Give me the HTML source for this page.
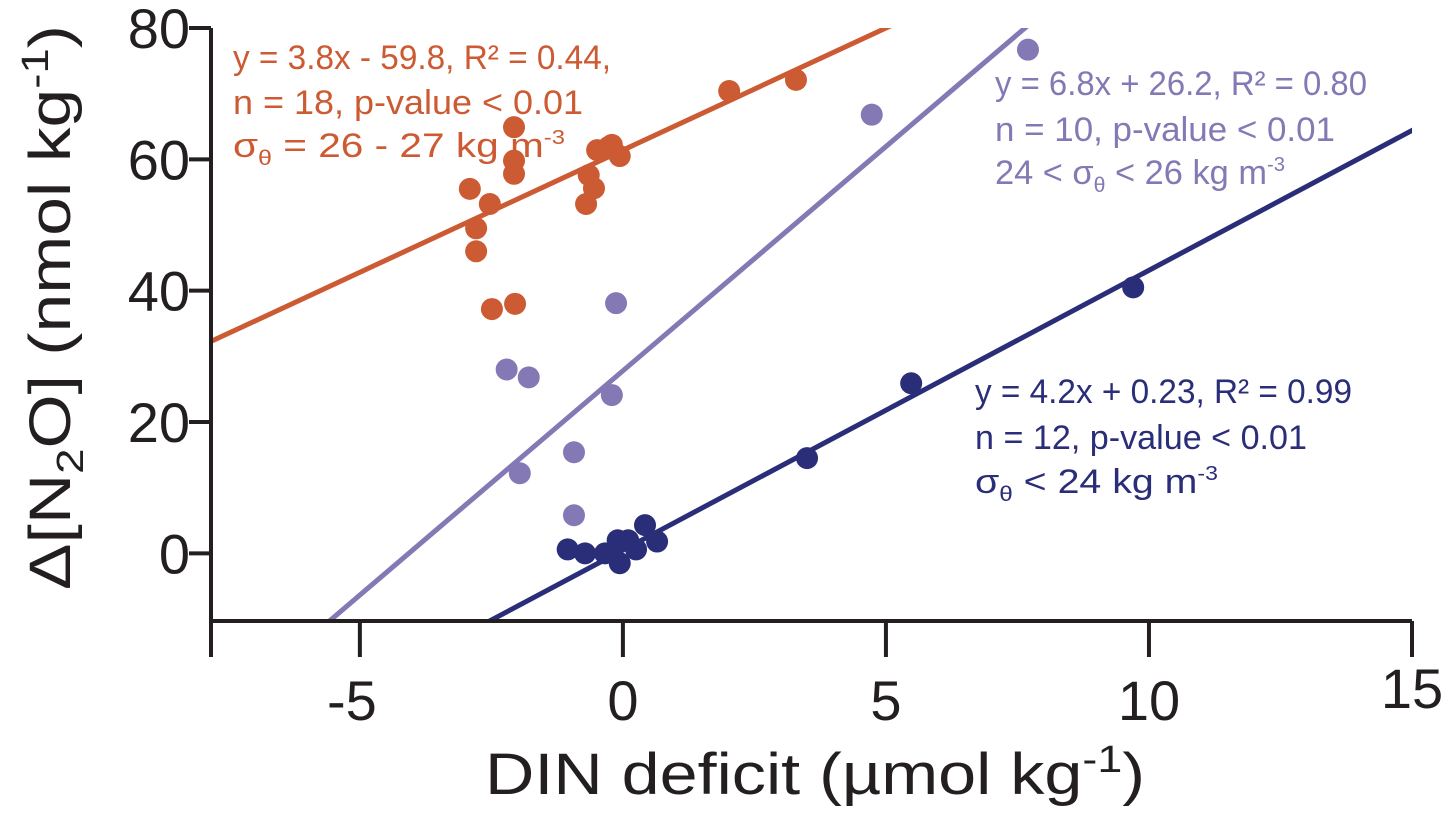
<!DOCTYPE html>
<html><head><meta charset="utf-8"><style>
body{margin:0;background:#fff}
svg text{font-family:"Liberation Sans",sans-serif}
</style></head><body>
<svg id="chart" width="1448" height="813" viewBox="0 0 1448 813" xmlns="http://www.w3.org/2000/svg">
<defs><clipPath id="plotclip"><rect x="211" y="28" width="1201" height="593"/></clipPath></defs>
<g id="marks" clip-path="url(#plotclip)"></g>
<g id="axes"></g>
<g fill="#cc5a32" font-size="34">
<text x="233" y="69" textLength="378" lengthAdjust="spacingAndGlyphs">y = 3.8x - 59.8, R² = 0.44,</text>
<text x="233" y="114" textLength="350" lengthAdjust="spacingAndGlyphs">n = 18, p-value &lt; 0.01</text>
<text x="233" y="157" textLength="332" lengthAdjust="spacingAndGlyphs">σ<tspan font-size="21" dy="8">θ</tspan><tspan dy="-8"> = 26 - 27 kg m</tspan><tspan font-size="20" dy="-13">-3</tspan></text>
</g>
<g fill="#8479b4" font-size="34">
<text x="995" y="95" textLength="372" lengthAdjust="spacingAndGlyphs">y = 6.8x + 26.2, R² = 0.80</text>
<text x="995" y="141" textLength="340" lengthAdjust="spacingAndGlyphs">n = 10, p-value &lt; 0.01</text>
<text x="995" y="184" textLength="290" lengthAdjust="spacingAndGlyphs">24 &lt; σ<tspan font-size="21" dy="8">θ</tspan><tspan dy="-8"> &lt; 26 kg m</tspan><tspan font-size="20" dy="-13">-3</tspan></text>
</g>
<g fill="#2a2d78" font-size="34">
<text x="975" y="403" textLength="377" lengthAdjust="spacingAndGlyphs">y = 4.2x + 0.23, R² = 0.99</text>
<text x="975" y="449" textLength="332" lengthAdjust="spacingAndGlyphs">n = 12, p-value &lt; 0.01</text>
<text x="975" y="493" textLength="243" lengthAdjust="spacingAndGlyphs">σ<tspan font-size="21" dy="8">θ</tspan><tspan dy="-8"> &lt; 24 kg m</tspan><tspan font-size="20" dy="-13">-3</tspan></text>
</g>
<text x="485" y="794" textLength="660" lengthAdjust="spacingAndGlyphs" font-size="58" fill="#231f20">DIN deficit (µmol kg<tspan font-size="38" dy="-22">-1</tspan><tspan dy="22">)</tspan></text>
<text transform="translate(70,590) rotate(-90)" textLength="565" lengthAdjust="spacingAndGlyphs" font-size="58" fill="#231f20">Δ[N<tspan font-size="38" dy="13">2</tspan><tspan dy="-13">O] (nmol kg</tspan><tspan font-size="38" dy="-22">-1</tspan><tspan dy="22">)</tspan></text>
</svg>
<script>
const xTicks=[-5,0,5,10,15];
const yTicks=[0,20,40,60,80];
const orangeX=[-2.91,-2.79,-2.79,-2.53,-2.49,-2.07,-2.07,-2.07,-2.05,-0.70,-0.65,-0.55,-0.49,-0.27,-0.21,-0.06,2.02,3.29];
const orangeY=[55.5,49.5,46,53.2,37.2,64.9,59.8,57.8,38,53.2,57.6,55.6,61.4,61.9,62.2,60.5,70.4,72.1];
const purpleX=[7.70,4.73,-0.13,-2.21,-1.79,-0.21,-0.93,-1.96,-0.93];
const purpleY=[76.7,66.8,38.1,28,26.8,24.1,15.4,12.2,5.8];
const navyX=[9.70,5.48,3.50,-1.05,-0.72,-0.10,-0.06,0.10,0.25,0.42,0.65,-0.34];
const navyY=[40.5,25.9,14.5,0.6,0,2,-1.5,2,0.6,4.3,1.8,0];
const fitSlopes=[3.72,6.83,4.26];
const fitIntercepts=[61.4,27.8,0.5];
const colors=['#cc5a32','#8479b4','#2a2d78'];
const NS='http://www.w3.org/2000/svg';
const X0=211,X1=1412,XMIN=-7.83,XMAX=15;
const Y0=621,Y1=28,YMIN=-10.3,YMAX=80;
function sx(v){return X0+(v-XMIN)/(XMAX-XMIN)*(X1-X0);}
function sy(v){return Y0-(v-YMIN)/(YMAX-YMIN)*(Y0-Y1);}
function mk(tag,attrs,parent){const e=document.createElementNS(NS,tag);for(const k in attrs)e.setAttribute(k,attrs[k]);parent.appendChild(e);return e;}
const marks=document.getElementById('marks'),axes=document.getElementById('axes');
const names=['orange','purple','navy'];
for(let i=0;i<3;i++){
  const a=fitSlopes[i],b=fitIntercepts[i];
  const l=mk('line',{x1:sx(-9),y1:sy(a*-9+b),x2:sx(16),y2:sy(a*16+b),stroke:colors[i],'stroke-width':5},marks);
  
  
}
const sets=[[orangeX,orangeY],[purpleX,purpleY],[navyX,navyY]];
sets.forEach((s,i)=>{s[0].forEach((x,j)=>{
  const c=mk('circle',{cx:sx(x),cy:sy(s[1][j]),r:11,fill:colors[i]},marks);
  
  
});});
const ax=mk('path',{d:`M${X0},${Y1} V${Y0} H${X1}`,fill:'none',stroke:'#231f20','stroke-width':4},axes);


const lt=mk('line',{x1:X0,y1:Y0,x2:X0,y2:657,stroke:'#231f20','stroke-width':4},axes);


xTicks.forEach(t=>{
  const tk=mk('line',{x1:sx(t),y1:Y0,x2:sx(t),y2:657,stroke:'#231f20','stroke-width':4},axes);
  
  
  const tx=mk('text',{x:sx(t)+(t<0?-8:0),y:t===15?708:720,'text-anchor':'middle','font-size':56,fill:'#231f20'},axes);
  tx.textContent=t;
  
  
});
yTicks.forEach(t=>{
  const tk=mk('line',{x1:X0-22,y1:sy(t),x2:X0,y2:sy(t),stroke:'#231f20','stroke-width':4},axes);
  
  
  const tx=mk('text',{x:190,y:sy(t)+20,'text-anchor':'end','font-size':56,fill:'#231f20'},axes);
  tx.textContent=t;
  
  
});
</script>
</body></html>
